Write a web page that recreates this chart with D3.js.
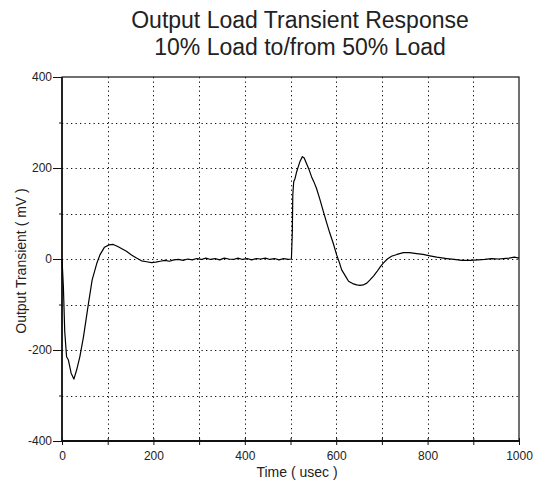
<!DOCTYPE html>
<html><head><meta charset="utf-8">
<script src="https://cdn.jsdelivr.net/npm/d3@7"></script>
<style>body{margin:0;background:#fff}svg{display:block}text{font-family:Arial,"Liberation Sans",sans-serif;fill:#222}</style>
</head><body><svg id="c" width="542" height="482"></svg>
<script>
const titleLines = ["Output Load Transient Response", "10% Load to/from 50% Load"];
const xLabel = "Time ( usec )";
const yLabel = "Output Transient ( mV )";
const xTickLabels = [0, 200, 400, 600, 800, 1000];
const yTickLabels = [-400, -200, 0, 200, 400];
const gridX = [100, 200, 300, 400, 500, 600, 700, 800, 900];
const gridY = [-300, -200, -100, 0, 100, 200, 300];
// time (usec)
const timeUs = [0,3,6,10,14,20,26,32,39,47,58,66,76,83,93,103,112,121,130,141,152,163,174,185,196,205,215,225,235,245,255,265,275,285,295,305,315,325,335,345,355,365,375,385,395,405,415,425,435,445,455,465,475,485,495,502,504,505,507,510,513,517,521,526,530,535,540,546,551,557,564,572,579,586,594,601,607,612,620,627,636,645,652,659,667,674,682,689,696,703,712,721,733,747,760,776,790,805,820,842,858,875,893,910,925,940,955,966,978,990,1000];
// output transient (mV)
const outMv = [0,-60,-160,-215,-222,-251,-264,-244,-215,-171,-97,-46,-10,9,26,31,32,28,23,17,9,2,-4,-6,-8,-7,-5,-3,-5,-2,-1,-3,0,-2,1,-1,2,-1,1,-2,2,0,-1,2,-1,1,-2,1,0,2,-1,1,-2,1,-1,0,60,140,170,177,190,203,215,225,222,210,198,181,170,155,132,104,80,57,33,9,-8,-24,-37,-49,-54,-57,-58,-57,-53,-46,-37,-28,-18,-9,0,6,10,14,14,12,10,7,4,1,-1,-3,-3,-2,-1,1,0,1,2,4,2];

const W = 542, H = 482;
const m = {left: 62, right: 23, top: 77, bottom: 41};
const svg = d3.select("#c");
const x = d3.scaleLinear().domain([0, 1000]).range([m.left, W - m.right]);
const y = d3.scaleLinear().domain([-400, 400]).range([H - m.bottom, m.top]);

// title
svg.selectAll("text.title").data(titleLines).join("text")
  .attr("class", "title")
  .attr("x", 300).attr("y", (d, i) => 28 + i * 26.5)
  .attr("text-anchor", "middle").style("font-size", "23px").text(d => d);

// grid
const grid = svg.append("g").attr("stroke", "#111").attr("stroke-width", 1).attr("stroke-dasharray", "1.3,3.2");
grid.selectAll("line.gx").data(gridX).join("line").attr("class", "gx")
  .attr("x1", d => Math.round(x(d)) + 0.5).attr("x2", d => Math.round(x(d)) + 0.5)
  .attr("y1", y(400)).attr("y2", y(-400));
grid.selectAll("line.gy").data(gridY).join("line").attr("class", "gy")
  .attr("y1", d => Math.round(y(d)) + 0.5).attr("y2", d => Math.round(y(d)) + 0.5)
  .attr("x1", x(0)).attr("x2", x(1000));

// frame
svg.append("rect").attr("x", x(0)).attr("y", y(400))
  .attr("width", x(1000) - x(0)).attr("height", y(-400) - y(400))
  .attr("fill", "none").attr("stroke", "#111").attr("stroke-width", 1.2);
svg.append("line").attr("x1", x(0)).attr("x2", x(1000)).attr("y1", y(-400)).attr("y2", y(-400))
  .attr("stroke", "#111").attr("stroke-width", 2);
svg.append("line").attr("x1", x(0)).attr("x2", x(0)).attr("y1", y(400)).attr("y2", y(-400))
  .attr("stroke", "#111").attr("stroke-width", 1.6);

// axes
const xAxis = d3.axisBottom(x).tickValues(d3.range(0, 1001, 100))
  .tickFormat(d => xTickLabels.includes(d) ? d : "").tickSize(4).tickSizeOuter(0);
const gx = svg.append("g").attr("transform", `translate(0,${y(-400)})`).call(xAxis);
gx.select(".domain").remove();
gx.selectAll(".tick line").attr("y1", -3).attr("stroke", "#111");
gx.selectAll(".tick text").style("font-size", "12px").attr("dy", null).attr("y", 19)
  .style("font-family", "Arial, 'Liberation Sans', sans-serif").attr("fill", "#222");

const yAxis = d3.axisLeft(y).tickValues(d3.range(-400, 401, 100))
  .tickFormat(d => yTickLabels.includes(d) ? d : "").tickSizeOuter(0);
const gy = svg.append("g").attr("transform", `translate(${x(0)},0)`).call(yAxis);
gy.select(".domain").remove();
gy.selectAll(".tick line").attr("x2", d => yTickLabels.includes(d) ? -9 : -3).attr("stroke", "#111");
gy.selectAll(".tick text").style("font-size", "12px").attr("x", -10)
  .style("font-family", "Arial, 'Liberation Sans', sans-serif").attr("fill", "#222");

// labels
svg.append("text").attr("x", 297).attr("y", 476.5).attr("text-anchor", "middle")
  .style("font-size", "14px").text(xLabel);
svg.append("text").attr("transform", `translate(25.5,261) rotate(-90)`).attr("text-anchor", "middle")
  .style("font-size", "14px").text(yLabel);

// curve
const pts = timeUs.map((t, i) => [t, outMv[i]]);
svg.append("path").datum(pts)
  .attr("d", d3.line().x(d => x(d[0])).y(d => y(d[1])))
  .attr("fill", "none").attr("stroke", "#000").attr("stroke-width", 1.2).attr("stroke-linejoin", "round");
</script></body></html>
